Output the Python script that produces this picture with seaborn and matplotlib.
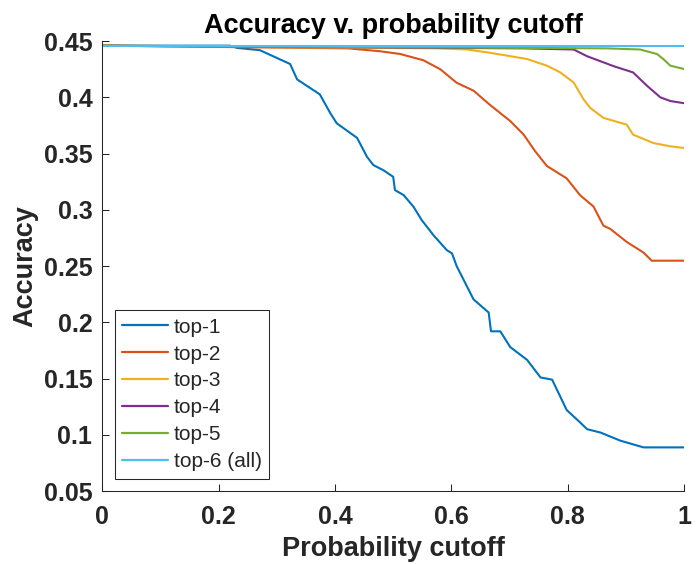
import pandas as pd
import seaborn as sns
import matplotlib.pyplot as plt

# cutoff / accuracy breakpoints
top1_x = [0, 0.22, 0.232, 0.271, 0.323, 0.335, 0.374, 0.392, 0.403, 0.438, 0.455, 0.466, 0.483, 0.500,
          0.503, 0.518, 0.535, 0.549, 0.569, 0.592, 0.601, 0.609, 0.638, 0.664, 0.668, 0.684, 0.701,
          0.730, 0.753, 0.773, 0.798, 0.821, 0.833, 0.856, 0.890, 0.930, 1.0]
top1_y = [0.446, 0.446, 0.444, 0.442, 0.4297, 0.416, 0.4027, 0.386, 0.377, 0.364, 0.3472, 0.3398, 0.3353,
          0.3294, 0.3176, 0.3131, 0.3027, 0.2909, 0.2776, 0.2642, 0.2613, 0.250, 0.2204, 0.2087, 0.192,
          0.192, 0.178, 0.1666, 0.151, 0.149, 0.122, 0.111, 0.105, 0.102, 0.0948, 0.0888, 0.0888]
top2_x = [0, 0.423, 0.478, 0.512, 0.552, 0.581, 0.609, 0.638, 0.667, 0.701, 0.724, 0.744, 0.764, 0.798,
          0.821, 0.844, 0.861, 0.873, 0.901, 0.930, 0.944, 1.0]
top2_y = [0.446, 0.4436, 0.441, 0.4386, 0.433, 0.425, 0.413, 0.406, 0.393, 0.379, 0.367, 0.352, 0.339,
          0.328, 0.313, 0.303, 0.286, 0.283, 0.2715, 0.262, 0.2548, 0.2548]
top3_x = [0, 0.575, 0.627, 0.667, 0.695, 0.730, 0.764, 0.787, 0.810, 0.827, 0.838, 0.861, 0.901, 0.912,
          0.947, 0.976, 1.0]
top3_y = [0.446, 0.4436, 0.4426, 0.4396, 0.4372, 0.4341, 0.4282, 0.4222, 0.4132, 0.3983, 0.3908, 0.3818,
          0.3758, 0.3669, 0.3594, 0.3565, 0.355]
top4_x = [0, 0.724, 0.810, 0.833, 0.879, 0.912, 0.936, 0.959, 0.976, 1.0]
top4_y = [0.446, 0.4436, 0.4426, 0.4366, 0.4277, 0.4222, 0.4103, 0.400, 0.3968, 0.3948]
top5_x = [0, 0.867, 0.924, 0.953, 0.964, 0.976, 1.0]
top5_y = [0.446, 0.4436, 0.4426, 0.4386, 0.4341, 0.4282, 0.4252]
top6_x = [0, 1.0]
top6_y = [0.446, 0.446]

labels = ["top-1", "top-2", "top-3", "top-4", "top-5", "top-6 (all)"]
colors = ["#0072BD", "#D95319", "#EDB120", "#7E2F8E", "#77AC30", "#4DBEEE"]
xticks = [0, 0.2, 0.4, 0.6, 0.8, 1]
xticklabels = ["0", "0.2", "0.4", "0.6", "0.8", "1"]
yticks = [0.05, 0.1, 0.15, 0.2, 0.25, 0.3, 0.35, 0.4, 0.45]
yticklabels = ["0.05", "0.1", "0.15", "0.2", "0.25", "0.3", "0.35", "0.4", "0.45"]

xs = [top1_x, top2_x, top3_x, top4_x, top5_x, top6_x]
ys = [top1_y, top2_y, top3_y, top4_y, top5_y, top6_y]
df = pd.concat([pd.DataFrame({"cutoff": x, "accuracy": y, "series": lab})
                for x, y, lab in zip(xs, ys, labels)], ignore_index=True)

sns.set_theme(style="ticks")
plt.rcParams["font.family"] = ["Liberation Sans", "DejaVu Sans"]
dark = "#262626"

fig, ax = plt.subplots(figsize=(6.99, 5.64), dpi=100)
fig.subplots_adjust(left=0.146, right=0.979, bottom=0.1294, top=0.927)

sns.lineplot(data=df, x="cutoff", y="accuracy", hue="series", hue_order=labels, palette=colors,
             sort=False, estimator=None, units="series", linewidth=1.5, ax=ax, legend=False)

ax.set_xlim(0, 1)
ax.set_ylim(0.05, 0.45)
ax.set_xticks(xticks)
ax.set_xticklabels(xticklabels, fontsize=18, fontweight="bold", color=dark)
ax.set_yticks(yticks)
ax.set_yticklabels(yticklabels, fontsize=18, fontweight="bold", color=dark)
ax.tick_params(direction="in", length=5, width=0.75, color=dark)
ax.tick_params(axis="x", pad=10)
ax.tick_params(axis="y", pad=7)
for side in ["top", "right"]:
    ax.spines[side].set_visible(False)
for side in ["left", "bottom"]:
    ax.spines[side].set_color(dark)
    ax.spines[side].set_linewidth(0.75)

ax.set_title("Accuracy v. probability cutoff", fontsize=19.5, fontweight="bold", color="black", pad=6)
ax.set_xlabel("Probability cutoff", fontsize=19.5, fontweight="bold", color=dark, labelpad=5)
ax.set_ylabel("Accuracy", fontsize=19.5, fontweight="bold", color=dark, labelpad=4)

handles = [plt.Line2D([], [], color=c, linewidth=1.6) for c in colors]
leg = ax.legend(handles, labels, loc="lower left", fontsize=15, frameon=True, fancybox=False,
                framealpha=1, edgecolor=dark, borderaxespad=0.6, labelspacing=0.38,
                handlelength=2.2, handletextpad=0.3, borderpad=0.35)
leg.get_frame().set_linewidth(0.75)

fig.savefig("out.png", dpi=100)
